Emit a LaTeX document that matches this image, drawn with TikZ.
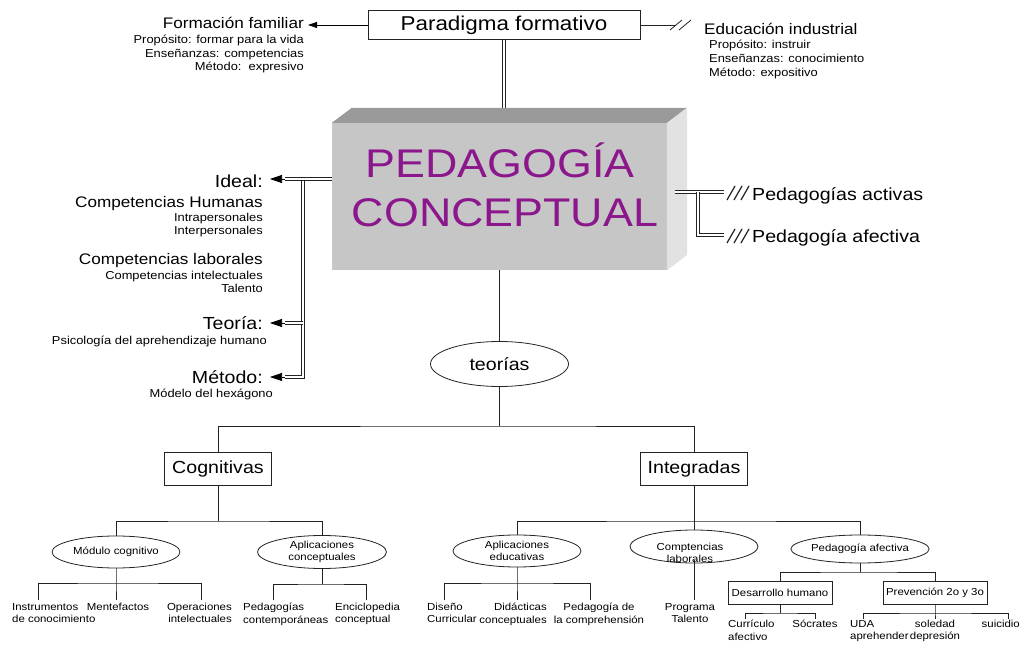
\documentclass[tikz,border=0pt]{standalone}
\usepackage{fontspec}
\setmainfont{Liberation Sans}[FakeStretch=1.12]
\usetikzlibrary{shapes.geometric,arrows.meta}
\definecolor{purp}{RGB}{140,22,140}
\definecolor{frontc}{RGB}{198,198,198}
\definecolor{topc}{RGB}{154,154,154}
\definecolor{sidec}{RGB}{226,226,226}
\definecolor{lnc}{RGB}{35,35,35}
\begin{document}
\begin{tikzpicture}[x=1pt,y=-1pt,
  tbig/.style={inner sep=0pt, font=\fontsize{17.5}{20}\selectfont},
  tmid/.style={inner sep=0pt, font=\fontsize{15.3}{18}\selectfont},
  tsml/.style={inner sep=0pt, font=\fontsize{11.5}{13.5}\selectfont},
  tleaf/.style={inner sep=0pt, font=\fontsize{10.2}{12.3}\selectfont},
  rbox/.style={draw=lnc, line width=0.8pt, inner sep=0pt},
  ell/.style={ellipse, draw=lnc, line width=0.8pt, inner sep=0pt, align=center, font=\fontsize{10.2}{12}\selectfont},
  ln/.style={draw=lnc, line width=0.8pt},
  dbl/.style={draw=lnc, double=white, double distance=1.8pt, line width=0.75pt},
  arr/.style={draw=black, line width=0.7pt, -{Triangle[length=12pt,width=8pt]}},
  sarr/.style={draw=black, line width=0.8pt, -{Triangle[length=9pt,width=6pt]}},
  slash/.style={draw=lnc, line width=1.2pt}
]
\useasboundingbox[fill=white] (0,0) rectangle (1021,647);

% ---------- top ----------
\node[rbox, minimum width=272, minimum height=29] (para) at (504,25) {\fontsize{20}{23}\selectfont Paradigma formativo};
\node[tmid, anchor=base east] (ff) at (304,28.5) {Formación familiar};
\node[tsml, anchor=base east] (ff1) at (304,43.1) {Propósito: formar para la vida};
\node[tsml, anchor=base east] (ff2) at (304,57.1) {Enseñanzas: competencias};
\node[tsml, anchor=base east] (ff3) at (304,70.1) {Método:\ \ expresivo};
\coordinate (ffa) at (308,25);
\draw[sarr] (para.west) -- (ffa);

\node[tmid, anchor=base west] (ei) at (704,34.5) {Educación industrial};
\node[tsml, anchor=base west] (ei1) at (709,49) {Propósito: instruir};
\node[tsml, anchor=base west] (ei2) at (709,63) {Enseñanzas: conocimiento};
\node[tsml, anchor=base west] (ei3) at (709,76.6) {Método: expositivo};
\coordinate (sl0) at (676,25);
\draw[ln] (para.east) -- (sl0);
\draw[ln] (670,30) -- (682,20);
\draw[ln] (679,30) -- (691,20);

% ---------- 3D box ----------
\node[fill=frontc, minimum width=335, minimum height=147, inner sep=0pt] (pc) at (499.5,196.5) {};
\fill[topc] (pc.north west) -- ++(20,-15) -- ++(335,0) -- (pc.north east) -- cycle;
\fill[sidec] (pc.north east) -- ++(20,-15) -- ++(0,147) -- (pc.south east) -- cycle;
\node[text=purp, font=\fontsize{40}{48}\selectfont, text height=28.8pt, text depth=0pt, inner sep=0pt] (pc1) at (500,163) {PEDAGOGÍA};
\node[text=purp, font=\fontsize{40}{48}\selectfont, text height=28.8pt, text depth=0pt, inner sep=0pt] (pc2) at (505,212) {CONCEPTUAL};
\coordinate (pcback) at (504,108);
\draw[dbl] (para.south) -- (pcback);

% ---------- left bracket ----------
\node[tbig, anchor=base east] (ideal) at (263,187.3) {Ideal:};
\node[tmid, anchor=base east] (ch) at (263,207.5) {Competencias Humanas};
\node[tsml, anchor=base east] (ch1) at (263,221.1) {Intrapersonales};
\node[tsml, anchor=base east] (ch2) at (263,234.1) {Interpersonales};
\node[tmid, anchor=base east] (cl0) at (263,264.5) {Competencias laborales};
\node[tsml, anchor=base east] (cl1) at (263,279.1) {Competencias intelectuales};
\node[tsml, anchor=base east] (cl2) at (263,292.1) {Talento};
\node[tbig, anchor=base east] (teoria) at (263,329.3) {Teoría:};
\node[tsml, anchor=base east] (psi) at (267,344.1) {Psicología del aprehendizaje humano};
\node[tbig, anchor=base east] (metodo) at (263,383.3) {Método:};
\node[tsml, anchor=base east] (hex) at (273,397.1) {Módelo del hexágono};

\coordinate (lj) at (303,179);
\coordinate (lt) at (303,323);
\coordinate (lm) at (303,377);
\coordinate (la1) at (285,179);
\coordinate (la2) at (285,323);
\coordinate (la3) at (285,377);
\coordinate (lt1) at (270,179);
\coordinate (lt2) at (270,323);
\coordinate (lt3) at (270,377);
\draw[dbl] (lj) -- (lm) -- (la3);
\draw[dbl] (pc.west |- lj) -- (la1);
\draw[dbl] (lt) -- (la2);
\draw[arr] (la1) -- (lt1);
\draw[arr] (la2) -- (lt2);
\draw[arr] (la3) -- (lt3);

% ---------- right bracket ----------
\coordinate (rs) at (675,192);
\coordinate (rj) at (698,192);
\coordinate (rc) at (698,235);
\coordinate (ra1) at (724,192);
\coordinate (ra2) at (724,235);
\draw[dbl] (rs) -- (ra1);
\draw[dbl] (rj) -- (rc) -- (ra2);
\foreach \i in {0,1,2} {
  \draw[slash] ({727+7*\i},200) -- ({735+7*\i},186);
  \draw[slash] ({727+7*\i},243) -- ({735+7*\i},229);
}
\node[tbig, anchor=base west] (ract) at (752,200.3) {Pedagogías activas};
\node[tbig, anchor=base west] (rafe) at (752,242.3) {Pedagogía afectiva};

% ---------- tree ----------
\node[ell, minimum width=138, minimum height=45] (teo) at (499.5,364) {\fontsize{17.5}{20}\selectfont teorías};
\draw[ln] (pc.south) -- (teo.north);
\coordinate (tb) at (499.5,426);
\draw[ln] (teo.south) -- (tb);
\node[rbox, minimum width=107, minimum height=33] (cog) at (218,468.5) {\fontsize{17.5}{20}\selectfont Cognitivas};
\node[rbox, minimum width=107, minimum height=33] (integ) at (694,468.5) {\fontsize{17.5}{20}\selectfont Integradas};
\draw[ln] (cog.north) |- (tb) -| (integ.north);

% Cognitivas
\coordinate (cb) at (218,521);
\node[ell, minimum width=128, minimum height=32] (mc) at (116,552) {Módulo cognitivo};
\node[ell, minimum width=129, minimum height=33] (ac) at (322,552) {Aplicaciones\\conceptuales};
\draw[ln] (cog.south) -- (cb);
\draw[ln] (mc.north) |- (cb) -| (ac.north);

\coordinate (mcb) at (116,583);
\coordinate (d11) at (38,600);
\coordinate (d12) at (116,600);
\coordinate (d13) at (201,600);
\draw[ln] (mc.south) -- (mcb) -- (d12);
\draw[ln] (d11) |- (mcb) -| (d13);
\node[tleaf, anchor=north west, align=left] (l11) at (12,603) {Instrumentos\\de conocimiento};
\node[tleaf, anchor=north] (l12) at (118,603) {Mentefactos};
\node[tleaf, anchor=north east, align=right] (l13) at (232,603) {Operaciones\\intelectuales};

\coordinate (acb) at (322,584);
\coordinate (d21) at (273,600);
\coordinate (d22) at (366,600);
\draw[ln] (ac.south) -- (acb);
\draw[ln] (d21) |- (acb) -| (d22);
\node[tleaf, anchor=north west, align=left] (l21) at (243,603) {Pedagogías\\contemporáneas};
\node[tleaf, anchor=north west, align=left] (l22) at (335,603) {Enciclopedia\\conceptual};

% Integradas
\coordinate (ib) at (694,521);
\node[ell, minimum width=128, minimum height=32] (ae) at (517,551) {Aplicaciones\\educativas};
\node[ell, minimum width=128, minimum height=33] (cl) at (694,546.5) {};
\node[tleaf, align=center, font=\fontsize{10.2}{11.5}\selectfont] (clt) at (690,553) {Comptencias\\laborales};
\node[ell, minimum width=129, minimum height=28] (pa) at (860,549) {Pedagogía afectiva};
\draw[ln] (integ.south) -- (cl.north);
\draw[ln] (ae.north) |- (ib) -| (pa.north);

\coordinate (aeb) at (517,583);
\coordinate (d31) at (444,600);
\coordinate (d32) at (517,600);
\coordinate (d33) at (590,600);
\draw[ln] (ae.south) -- (aeb) -- (d32);
\draw[ln] (d31) |- (aeb) -| (d33);
\node[tleaf, anchor=north west, align=left] (l31) at (427,603) {Diseño\\Curricular};
\node[tleaf, anchor=north east, align=right] (l32) at (547,603) {Didácticas\\conceptuales};
\node[tleaf, anchor=north, align=center] (l33) at (599,603) {Pedagogía de\\la comprehensión};

\coordinate (d41) at (694,600);
\coordinate (d40) at (694,560);
\draw[ln] (d40) -- (d41);
\node[tleaf, anchor=north, align=center] (l41) at (690,603) {Programa\\Talento};

\coordinate (pab) at (860,572);
\node[rbox, minimum width=104, minimum height=23] (dh) at (780,592.5) {\fontsize{10.2}{12}\selectfont Desarrollo humano};
\node[rbox, minimum width=104, minimum height=23] (pv) at (935,592.5) {\fontsize{10.2}{12}\selectfont Prevención 2o y 3o};
\draw[ln] (pa.south) -- (pab);
\draw[ln] (dh.north) |- (pab) -| (pv.north);

\coordinate (dhb) at (780,613);
\coordinate (d51) at (745,619);
\coordinate (d52) at (815,619);
\draw[ln] (dh.south) -- (dhb);
\draw[ln] (d51) |- (dhb) -| (d52);
\node[tleaf, anchor=north west, align=left] (l51) at (728,620) {Currículo\\afectivo};
\node[tleaf, anchor=north] (l52) at (815,620) {Sócrates};

\coordinate (pvb) at (935,613);
\coordinate (d61) at (863,619);
\coordinate (d62) at (935,619);
\coordinate (d63) at (1008,619);
\draw[ln] (pv.south) -- (pvb) -- (d62);
\draw[ln] (d61) |- (pvb) -| (d63);
\node[tleaf, anchor=north west, align=left] (l61) at (850,620) {UDA\\aprehender};
\node[tleaf, anchor=north, align=center] (l62) at (935,620) {soledad\\depresión};
\node[tleaf, anchor=north east] (l63) at (1020,620) {suicidio};
\end{tikzpicture}
\end{document}
